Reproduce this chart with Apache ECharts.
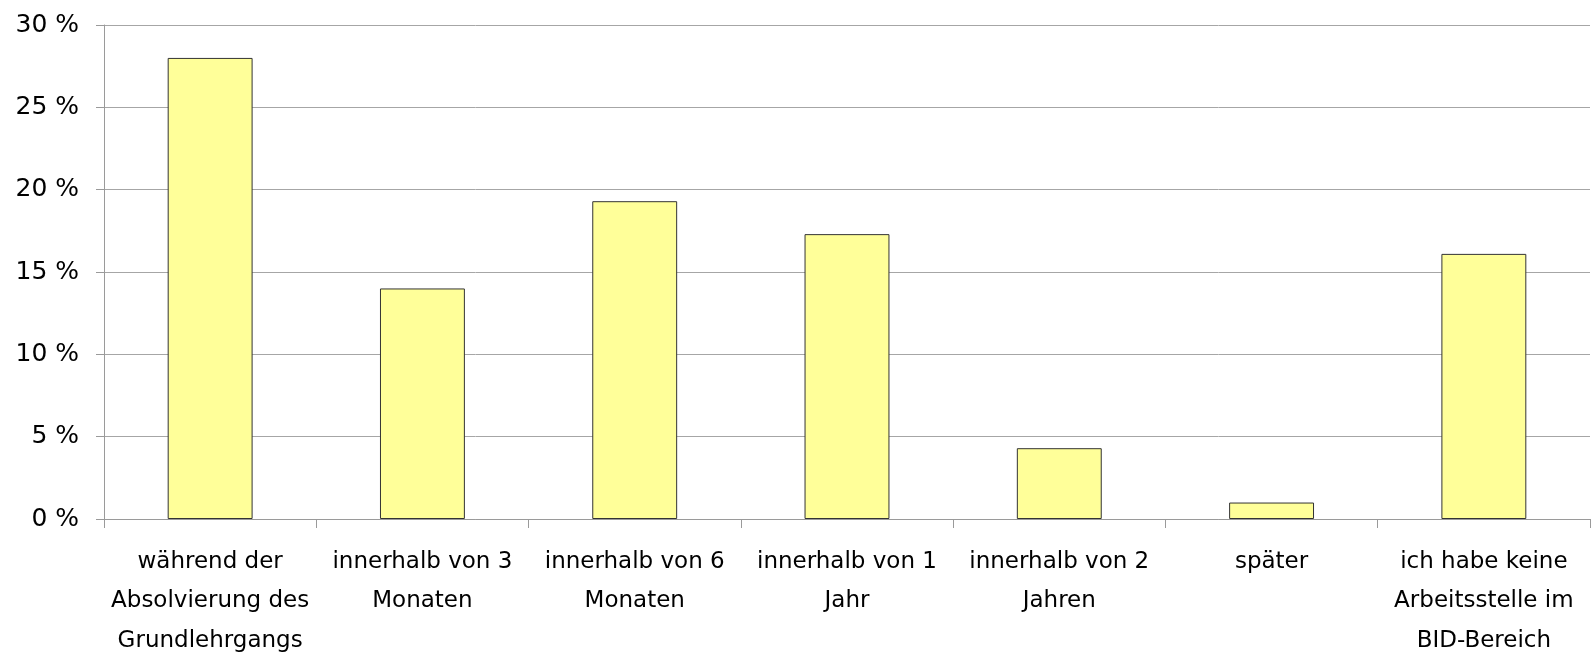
<!DOCTYPE html>
<html>
<head>
<meta charset="utf-8">
<script src="https://cdn.jsdelivr.net/npm/echarts@6/dist/echarts.min.js"></script>
<style>
  html, body { margin: 0; padding: 0; background: #fff; }
  #chart { width: 1592px; height: 654px; }
</style>
</head>
<body>
<div id="chart"></div>
<script>
// Kategorien (Zeitpunkt der Arbeitsstelle)
var categories = [
    'während der\nAbsolvierung des\nGrundlehrgangs',
    'innerhalb von 3\nMonaten',
    'innerhalb von 6\nMonaten',
    'innerhalb von 1\nJahr',
    'innerhalb von 2\nJahren',
    'später',
    'ich habe keine\nArbeitsstelle im\nBID-Bereich'
];
// Anteile in Prozent
var values = [28.0, 14.0, 19.3, 17.3, 4.3, 1.0, 16.1];
var yTicks = [0, 5, 10, 15, 20, 25, 30];

var chart = echarts.init(document.getElementById('chart'));
chart.setOption({
    animation: false,
    backgroundColor: '#ffffff',
    grid: { left: 104, right: 2, top: 25, bottom: 135, containLabel: false, outerBoundsMode: 'none' },
    xAxis: {
        type: 'category',
        data: categories,
        axisLine: { lineStyle: { color: '#9a9a9a', width: 1 } },
        axisTick: { show: true, length: 9, lineStyle: { color: '#9a9a9a' } },
        axisLabel: {
            interval: 0,
            margin: 23,
            color: '#000',
            fontFamily: 'DejaVu Sans',
            fontSize: 23,
            lineHeight: 39.5
        }
    },
    yAxis: {
        type: 'value',
        min: yTicks[0],
        max: yTicks[yTicks.length - 1],
        interval: 5,
        axisLine: { show: true, lineStyle: { color: '#9a9a9a' } },
        axisTick: { show: true, length: 8, lineStyle: { color: '#9a9a9a' } },
        splitLine: { lineStyle: { color: '#a6a6a6', width: 1 } },
        axisLabel: {
            margin: 25,
            color: '#000',
            fontFamily: 'DejaVu Sans',
            fontSize: 25,
            formatter: function (v) { return v + ' %'; }
        }
    },
    series: [{
        type: 'bar',
        data: values,
        barCategoryGap: '60%',
        itemStyle: { color: '#ffff99', borderColor: '#333333', borderWidth: 1 }
    }]
});
</script>
</body>
</html>
